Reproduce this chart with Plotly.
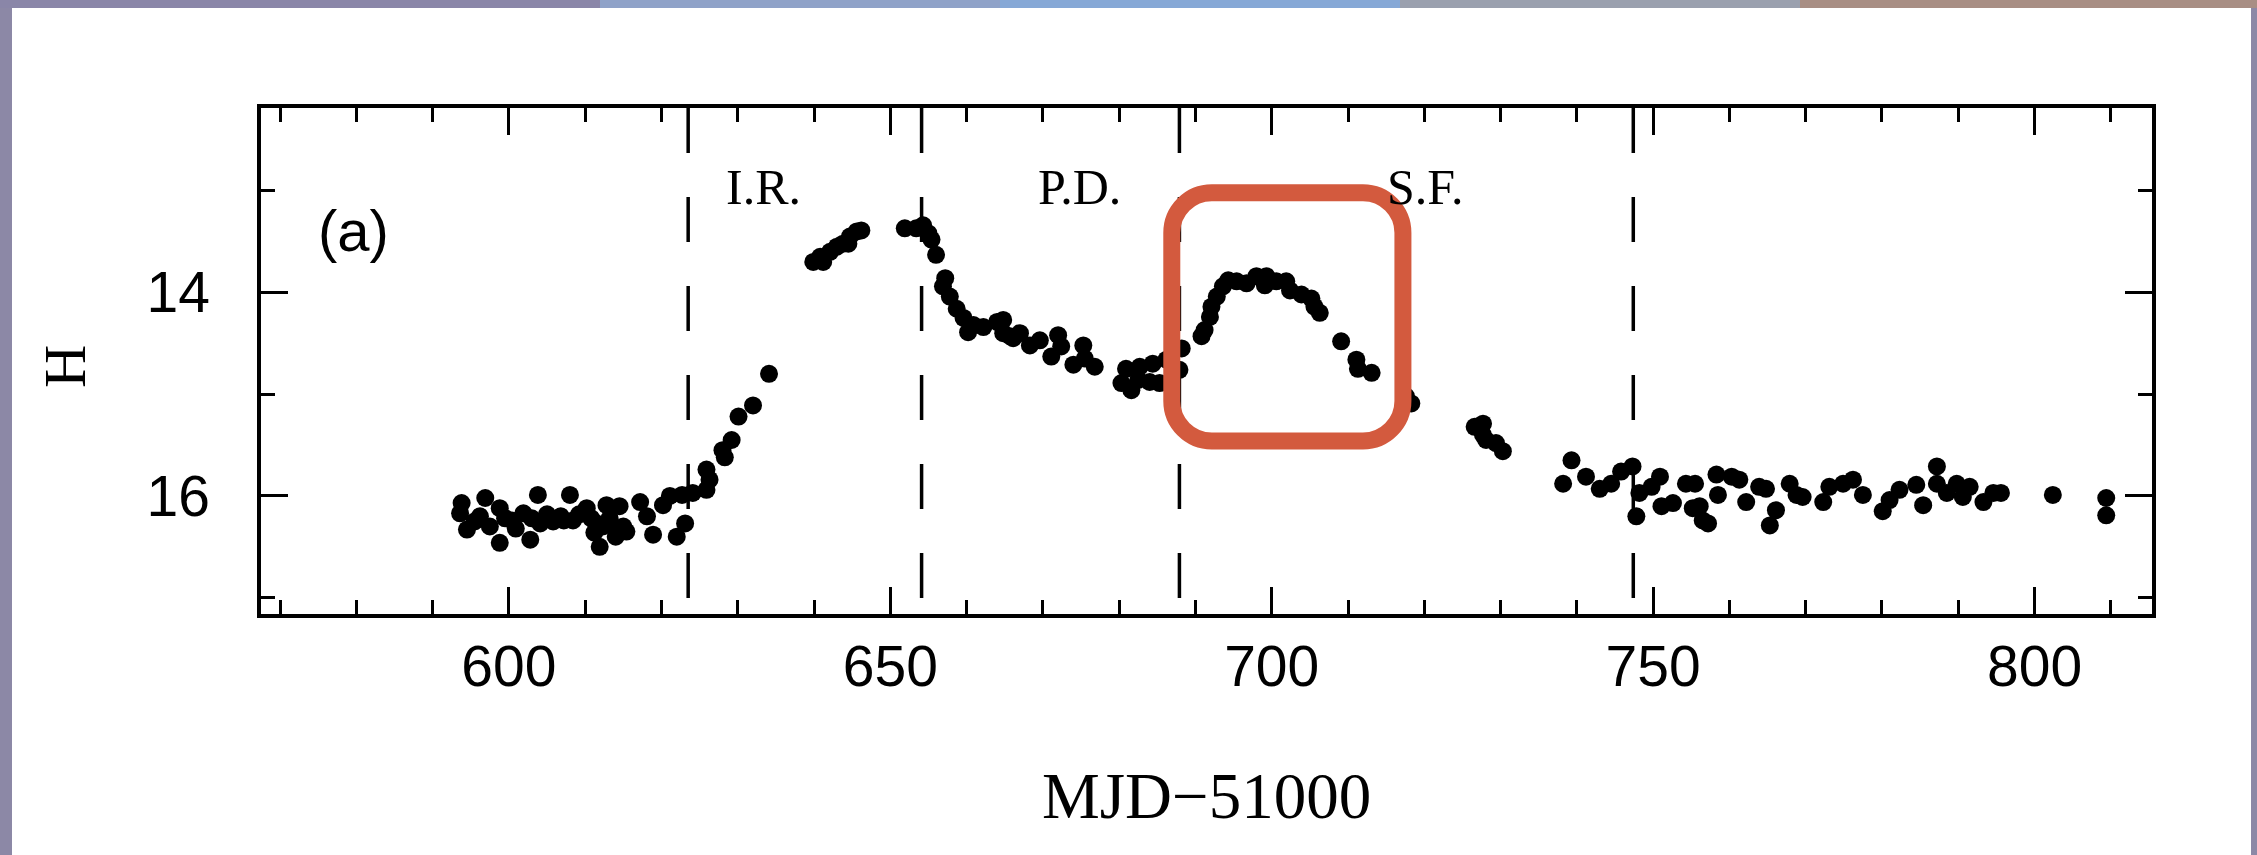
import plotly.graph_objects as go

# ---------------- data ----------------
quiet_mjd = [593.6, 593.8, 594.5, 595.5, 596.2, 596.9, 597.5, 598.8, 598.8, 599.5,
             600.4, 600.9, 601.9, 602.8, 603.0, 603.8, 604.1, 605.0, 605.8, 606.8,
             607.2, 608.0, 608.4, 609.2, 610.2, 610.8, 611.2, 611.5, 611.9, 612.3,
             612.8, 613.2, 613.7, 614.0, 614.5, 615.0, 615.4, 617.2, 618.1, 618.9,
             620.2, 621.1, 622.0, 622.7, 623.1]
quiet_h = [16.17, 16.07, 16.33, 16.25, 16.20, 16.02, 16.30, 16.12, 16.46, 16.22,
           16.24, 16.32, 16.17, 16.43, 16.22, 15.99, 16.27, 16.18, 16.25, 16.20,
           16.24, 15.99, 16.24, 16.18, 16.12, 16.22, 16.36, 16.27, 16.50, 16.30,
           16.09, 16.22, 16.30, 16.40, 16.10, 16.30, 16.35, 16.06, 16.20, 16.38,
           16.09, 16.00, 16.40, 15.99, 16.27]

rise_mjd = [624.1, 625.9, 625.9, 626.3, 628.0, 628.3, 629.2, 630.1, 632.0, 634.1,
            639.9, 640.8, 641.2, 642.1, 643.0, 643.8, 644.5, 644.7, 645.6, 646.2]
rise_h = [15.97, 15.94, 15.74, 15.84, 15.55, 15.62, 15.45, 15.22, 15.11, 14.80,
          13.70, 13.65, 13.70, 13.60, 13.55, 13.52, 13.52, 13.45, 13.40, 13.39]

decline_mjd = [651.9, 653.4, 654.3, 655.0, 655.4, 656.0, 656.9, 657.2, 657.8, 658.7,
               659.6, 660.2, 660.9, 662.2, 664.0, 664.8, 664.8, 665.7, 666.1, 667.0,
               668.3, 669.6, 671.1, 672.0, 672.4, 674.0, 675.3, 675.5, 676.8, 680.3,
               680.9, 681.6, 682.5, 682.7, 684.0, 684.4, 685.3, 686.2, 687.1, 687.9,
               688.2]
decline_h = [13.37, 13.37, 13.34, 13.42, 13.48, 13.63, 13.94, 13.86, 14.04, 14.16,
             14.25, 14.39, 14.32, 14.34, 14.29, 14.40, 14.27, 14.43, 14.45, 14.40,
             14.52, 14.47, 14.63, 14.42, 14.53, 14.71, 14.52, 14.65, 14.73, 14.89,
             14.75, 14.96, 14.86, 14.73, 14.88, 14.70, 14.89, 14.66, 14.79, 14.76,
             14.55]

flare_mjd = [690.8, 691.2, 691.9, 692.1, 692.8, 693.6, 694.3, 695.4, 696.7, 698.0,
             699.1, 699.3, 700.6, 701.9, 702.4, 703.9, 705.2, 705.6, 706.3, 709.1,
             711.1, 711.3, 713.1, 717.6, 718.3, 726.6, 727.7, 727.7, 728.1, 729.4,
             730.3, 738.2, 739.3, 741.2, 743.0, 744.5, 745.8, 747.3]
flare_h = [14.43, 14.37, 14.24, 14.14, 14.04, 13.94, 13.88, 13.89, 13.91, 13.84,
           13.93, 13.84, 13.89, 13.89, 13.98, 14.02, 14.06, 14.14, 14.20, 14.48,
           14.66, 14.75, 14.79, 15.02, 15.09, 15.32, 15.29, 15.40, 15.45, 15.48,
           15.56, 15.88, 15.65, 15.81, 15.93, 15.88, 15.76, 15.71]

tail_mjd = [747.8, 748.2, 749.8, 750.9, 751.1, 752.6, 754.3, 755.2, 755.5, 756.1,
            756.5, 757.2, 758.3, 758.5, 760.3, 761.3, 762.2, 763.9, 764.8, 765.3,
            766.1, 767.9, 768.8, 769.6, 772.3, 773.1, 774.9, 776.2, 777.5, 780.1,
            781.0, 782.3, 784.5, 785.4, 787.2, 787.2, 788.5, 789.8, 790.6, 791.5,
            793.3, 794.6, 795.6, 802.4, 809.4, 809.4]
tail_h = [16.20, 15.97, 15.91, 15.81, 16.10, 16.07, 15.88, 16.12, 15.88, 16.10,
          16.24, 16.27, 15.79, 15.99, 15.81, 15.84, 16.06, 15.91, 15.93, 16.29,
          16.14, 15.88, 15.99, 16.01, 16.06, 15.91, 15.88, 15.84, 15.99, 16.15,
          16.04, 15.94, 15.89, 16.09, 15.71, 15.88, 15.97, 15.88, 16.01, 15.91,
          16.06, 15.97, 15.97, 15.99, 16.02, 16.19]

phase_bounds = [623.5, 654.1, 687.9, 747.4]
phase_labels = ["I.R.", "P.D.", "S.F."]
phase_label_x = [633.4, 674.8, 720.1]
phase_label_y = 12.96

x_range = [567.5, 815.4]
y_range = [17.16, 12.187]   # magnitudes: reversed

highlight_x = [686.9, 717.2]
highlight_y = [13.02, 15.46]

# ---------------- figure ----------------
mjd = quiet_mjd + rise_mjd + decline_mjd + flare_mjd + tail_mjd
hmag = quiet_h + rise_h + decline_h + flare_h + tail_h

W, H = 2257, 855
L, R, T, B = 261, 105, 108, 241
pw, ph = W - L - R, H - T - B


def px2paper_x(px):
    return (px - L) / pw


def px2paper_y(py):
    return (H - B - py) / ph


fig = go.Figure()
fig.add_trace(go.Scatter(
    x=mjd, y=hmag, mode="markers",
    marker=dict(color="black", size=18, line=dict(width=0)),
    showlegend=False, hoverinfo="x+y"))

shapes = []
# background strips around the white panel (space image edges)
bg_strips = [
    (0, 0, 600, 8, "#8a86a8"),
    (600, 0, 1000, 8, "#8fa2c8"),
    (1000, 0, 1400, 8, "#86a8d6"),
    (1400, 0, 1800, 8, "#9aa0ae"),
    (1800, 0, 2257, 8, "#a88e84"),
]
for x0, y0, x1, y1, c in bg_strips:
    shapes.append(dict(type="rect", xref="paper", yref="paper", layer="below",
                       x0=px2paper_x(x0), x1=px2paper_x(x1),
                       y0=px2paper_y(y0), y1=px2paper_y(y1),
                       fillcolor=c, line=dict(width=0)))
# white panel
shapes.append(dict(type="rect", xref="paper", yref="paper", layer="below",
                   x0=px2paper_x(12), x1=px2paper_x(2251),
                   y0=px2paper_y(8), y1=px2paper_y(H),
                   fillcolor="white", line=dict(width=0)))

# dashed phase boundaries
for xb in phase_bounds:
    shapes.append(dict(type="line", xref="x", yref="paper", x0=xb, x1=xb,
                       y0=1, y1=0, line=dict(color="black", width=3.5, dash="45px,44px")))

# rounded highlight rectangle
x0, x1 = highlight_x
y0, y1 = highlight_y
rx = 40 / (pw / (x_range[1] - x_range[0]))
ry = 40 / (ph / (y_range[0] - y_range[1]))
k = 0.5523
path = (f"M {x0+rx},{y0} L {x1-rx},{y0} "
        f"C {x1-rx+k*rx},{y0} {x1},{y0+ry-k*ry} {x1},{y0+ry} "
        f"L {x1},{y1-ry} "
        f"C {x1},{y1-ry+k*ry} {x1-rx+k*rx},{y1} {x1-rx},{y1} "
        f"L {x0+rx},{y1} "
        f"C {x0+rx-k*rx},{y1} {x0},{y1-ry+k*ry} {x0},{y1-ry} "
        f"L {x0},{y0+ry} "
        f"C {x0},{y0+ry-k*ry} {x0+rx-k*rx},{y0} {x0+rx},{y0} Z")
shapes.append(dict(type="path", xref="x", yref="y", path=path, layer="above",
                   line=dict(color="#D35A3E", width=17), fillcolor="rgba(0,0,0,0)"))

annotations = []
for lab, lx in zip(phase_labels, phase_label_x):
    annotations.append(dict(x=lx, y=phase_label_y, xref="x", yref="y", text=lab,
                            showarrow=False, xanchor="center", yanchor="middle",
                            font=dict(family="Liberation Serif", size=50, color="black")))
annotations.append(dict(x=579.6, y=13.39, xref="x", yref="y", text="(a)",
                        showarrow=False, xanchor="center", yanchor="middle",
                        font=dict(family="Liberation Sans", size=58, color="black")))
annotations.append(dict(x=0.5, y=px2paper_y(796), xref="paper", yref="paper",
                        text="MJD\u221251000", showarrow=False,
                        xanchor="center", yanchor="middle",
                        font=dict(family="Liberation Serif", size=65, color="black")))
annotations.append(dict(x=px2paper_x(65), y=px2paper_y(367), xref="paper", yref="paper",
                        text="H", textangle=-90, showarrow=False,
                        xanchor="center", yanchor="middle",
                        font=dict(family="Liberation Serif", size=60, color="black")))

axis_common = dict(showline=True, linecolor="black", linewidth=3.5, mirror="ticks",
                   ticks="inside", tickcolor="black", tickwidth=3, ticklen=27,
                   showgrid=False, zeroline=False,
                   tickfont=dict(family="Liberation Sans", size=57, color="black"))

fig.update_layout(
    width=W, height=H,
    margin=dict(l=L, r=R, t=T, b=B, pad=0),
    paper_bgcolor="#8c88a6", plot_bgcolor="white",
    xaxis=dict(range=x_range, tick0=0, dtick=50,
               minor=dict(dtick=10, ticks="inside", ticklen=14, tickwidth=3,
                          tickcolor="black", showgrid=False),
               ticklabelstandoff=0, **axis_common),
    yaxis=dict(range=y_range, tick0=0, dtick=2,
               minor=dict(dtick=1, ticks="inside", ticklen=14, tickwidth=3,
                          tickcolor="black", showgrid=False),
               ticklabelstandoff=36, **axis_common),
    shapes=shapes, annotations=annotations,
)

fig.write_html("out.html")
